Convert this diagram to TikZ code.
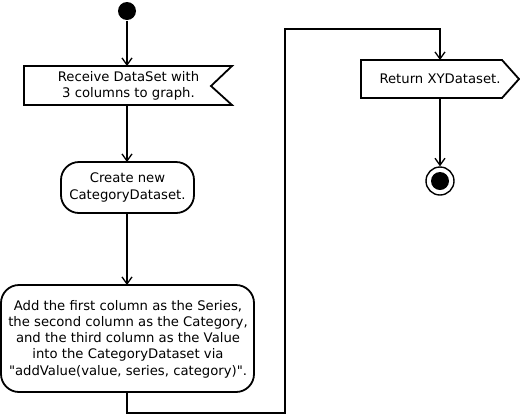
\documentclass[tikz,border=0pt]{standalone}
\usepackage{fontspec}
\setmainfont[Ligatures=TeXOff]{DejaVu Sans}
\usetikzlibrary{arrows.meta}
\begin{document}
\begin{tikzpicture}[x=1pt,y=-1pt,
  line width=1.8pt,
  flow/.style={-{Straight Barb[length=7pt,width=10pt,line width=1.3pt]}},
  lbl/.style={font=\fontsize{13.2}{16.2}\selectfont, align=center, inner sep=0pt},
  rbox/.style={draw, rounded corners=18pt}]
\useasboundingbox (0,0) rectangle (520,416);
% start
\node[circle, fill=black, minimum size=18pt, inner sep=0pt] (start) at (127,11) {};
% receive (signal receipt)
\draw (24,66) -- (232,66) -- (211,86) -- (232,105) -- (24,105) -- cycle;
\node[lbl] (recv) at (128.5,86) {Receive DataSet with\\3 columns to graph.};
\coordinate (recvT) at (127,66);
\coordinate (recvB) at (127,105);
% create
\draw[rbox] (61,162) rectangle (194,213);
\node[lbl] (create) at (127.5,187.5) {Create new\\CategoryDataset.};
\coordinate (createT) at (127,162);
\coordinate (createB) at (127,213);
% add
\draw[rbox] (1,285) rectangle (254,392);
\node[lbl] (add) at (128,339) {Add the first column as the Series,\\the second column as the Category,\\and the third column as the Value\\into the CategoryDataset via\\"addValue(value, series, category)".};
\coordinate (addT) at (127,285);
\coordinate (addB) at (127,392);
% return (signal send)
\draw (361,60) -- (502,60) -- (519,79) -- (502,98) -- (361,98) -- cycle;
\node[lbl] (ret) at (440,79) {Return XYDataset.};
\coordinate (retT) at (440,60);
\coordinate (retB) at (440,98);
% end
\node[circle, draw, line width=1.4pt, minimum size=28pt, inner sep=0pt] (endo) at (440,181) {};
\node[circle, fill=black, minimum size=18pt, inner sep=0pt] (endi) at (440,181) {};
% connectors
\draw[flow] (start) -- (recvT);
\draw[flow] (recvB) -- (createT);
\draw[flow] (createB) -- (addT);
\draw[flow] (addB) -- (127,413) -- (285,413) -- (285,29) -- (440,29) -- (retT);
\draw[flow] (retB) -- (endo);
\end{tikzpicture}
\end{document}
